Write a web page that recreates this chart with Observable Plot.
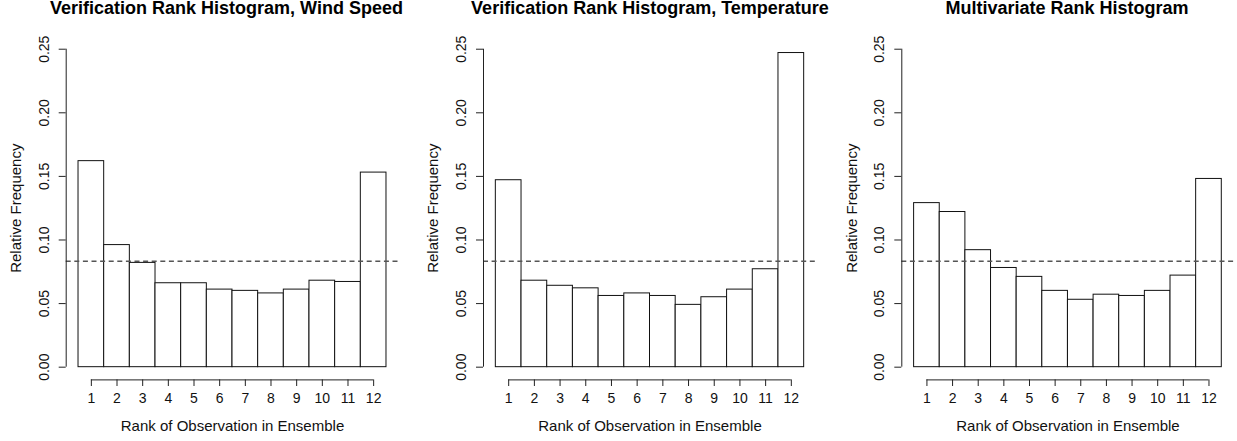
<!DOCTYPE html>
<html><head><meta charset="utf-8">
<script src="https://cdn.jsdelivr.net/npm/d3@7"></script>
<script src="https://cdn.jsdelivr.net/npm/@observablehq/plot@0.6"></script>
<style>
body{margin:0;background:#fff;}
#wrap{position:relative;width:1237px;height:441px;background:#fff;}
#wrap svg{position:absolute;top:0;}
</style></head><body><div id="wrap"></div>
<script>
// ---- data ----
const ranks = [1, 2, 3, 4, 5, 6, 7, 8, 9, 10, 11, 12];
const xTickLabels = ["1", "2", "3", "4", "5", "6", "7", "8", "9", "10", "11", "12"];
const windSpeed   = [0.162, 0.096, 0.082, 0.066, 0.066, 0.061, 0.060, 0.058, 0.061, 0.068, 0.067, 0.153];
const temperature = [0.147, 0.068, 0.064, 0.062, 0.056, 0.058, 0.056, 0.049, 0.055, 0.061, 0.077, 0.247];
const multivariate= [0.129, 0.122, 0.092, 0.078, 0.071, 0.060, 0.053, 0.057, 0.056, 0.060, 0.072, 0.148];
const titles = ["Verification Rank Histogram, Wind Speed", "Verification Rank Histogram, Temperature", "Multivariate Rank Histogram"];
const yTicks = [0.00, 0.05, 0.10, 0.15, 0.20, 0.25];
const uniformFrequency = 0.0833;
const xAxisTitle = "Rank of Observation in Ensemble";
const yAxisTitle = "Relative Frequency";

// ---- layout ----
const H = 441, mT = 36, mB = 61.6;
const font = "'Liberation Sans', Arial, Helvetica, sans-serif";
const panels = [
  {title: titles[0], values: windSpeed,    left: 0,   width: 412, mL: 65.7, mR: 13.7, titleX: 226},
  {title: titles[1], values: temperature,  left: 412, width: 412, mL: 71,   mR: 8,    titleX: 237.5},
  {title: titles[2], values: multivariate, left: 824, width: 413, mL: 77.3, mR: 3.4,  titleX: 242.5}
];
const wrap = document.getElementById("wrap");
panels.forEach(p => {
  const pxX = (p.width - p.mL - p.mR) / 12.96;
  const xd = px => -0.48 + (px - p.mL) / pxX;
  const pxY = (H - mB - mT) / 0.27;
  const yd = py => -0.01 + (H - mB - py) / pxY;
  const data = ranks.map((r, i) => ({rank: r, value: p.values[i]}));
  const ax = "#222";
  const chart = Plot.plot({
    width: p.width, height: H,
    marginLeft: p.mL, marginRight: p.mR, marginTop: mT, marginBottom: mB,
    x: {type: "linear", domain: [-0.48, 12.48], axis: null},
    y: {type: "linear", domain: [-0.01, 0.26], axis: null},
    style: {fontFamily: font, background: "transparent", color: "black", overflow: "visible"},
    marks: [
      Plot.rect(data, {x1: d => d.rank - 1, x2: d => d.rank, y1: () => 0, y2: "value", fill: "white", stroke: "#111", strokeWidth: 1}),
      Plot.ruleY([uniformFrequency], {stroke: "#555", strokeWidth: 1.5, strokeDasharray: "5,3.6"}),
      // y axis
      Plot.ruleX([-0.48], {y1: () => 0, y2: () => 0.25, stroke: ax}),
      Plot.ruleY(yTicks, {x1: () => xd(p.mL - 7), x2: () => -0.48, stroke: ax}),
      Plot.text(yTicks, {y: d => d, x: () => xd(p.mL - 22), text: d => d.toFixed(2), rotate: -90, fontSize: 14, fill: "#111"}),
      Plot.text([yAxisTitle], {x: () => xd(p.mL - 50), y: () => 0.125, text: d => d, rotate: -90, fontSize: 15, fill: "#111"}),
      // x axis
      Plot.ruleY([-0.01], {x1: () => 0.5, x2: () => 11.5, stroke: ax}),
      Plot.ruleX(ranks, {x: d => d - 0.5, y1: () => -0.01, y2: () => yd(386), stroke: ax}),
      Plot.text(ranks, {x: d => d - 0.5, y: () => yd(398), text: (d, i) => xTickLabels[i], fontSize: 14, fill: "#111"}),
      Plot.text([xAxisTitle], {x: () => 6, y: () => yd(426), text: d => d, fontSize: 15, fill: "#111"}),
      // title
      Plot.text([p.title], {x: () => xd(p.titleX), y: () => yd(7.7), text: d => d, fontSize: 18, fontWeight: "bold", fill: "#000"})
    ]
  });
  chart.style.left = p.left + "px";
  wrap.appendChild(chart);
});
</script>
</body></html>
